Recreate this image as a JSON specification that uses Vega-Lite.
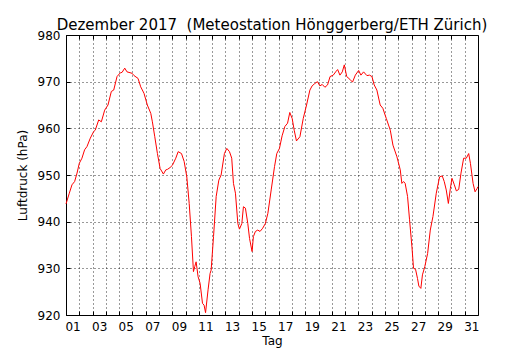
{
  "$schema": "https://vega.github.io/schema/vega-lite/v6.json",
  "width": 412,
  "height": 280,
  "autosize": {"type": "none"},
  "padding": {"left": 66, "top": 35, "right": 52, "bottom": 35},
  "background": "white",
  "config": {
    "font": "DejaVu Sans",
    "view": {"stroke": "black", "strokeWidth": 1},
    "axis": {
      "labelFont": "DejaVu Sans",
      "titleFont": "DejaVu Sans",
      "labelFontSize": 12,
      "titleFontSize": 12,
      "titleFontWeight": "normal",
      "labelColor": "black",
      "titleColor": "black",
      "tickColor": "black",
      "domain": false
    }
  },
  "title": {
    "text": "Dezember 2017\u00a0 (Meteostation Hönggerberg/ETH Zürich)",
    "font": "DejaVu Sans",
    "fontSize": 15,
    "fontWeight": "normal",
    "color": "black",
    "anchor": "middle",
    "frame": "group",
    "baseline": "alphabetic",
    "offset": 6,
    "dy": 22
  },
  "data": {
    "values": [
      {"t": 0.0, "p": 943.8}, {"t": 0.25, "p": 946.1}, {"t": 0.45, "p": 947.9}, {"t": 0.65, "p": 948.6},
      {"t": 0.83, "p": 950.4}, {"t": 1.0, "p": 952.5}, {"t": 1.2, "p": 953.6}, {"t": 1.4, "p": 955.4},
      {"t": 1.58, "p": 956.1}, {"t": 1.83, "p": 957.9}, {"t": 2.08, "p": 959.3}, {"t": 2.2, "p": 959.6},
      {"t": 2.46, "p": 961.8}, {"t": 2.66, "p": 961.4}, {"t": 2.91, "p": 963.9}, {"t": 3.16, "p": 965.0},
      {"t": 3.41, "p": 967.9}, {"t": 3.59, "p": 968.2}, {"t": 3.84, "p": 971.1}, {"t": 4.09, "p": 971.9},
      {"t": 4.22, "p": 972.0}, {"t": 4.42, "p": 972.9}, {"t": 4.59, "p": 972.1}, {"t": 4.97, "p": 971.8},
      {"t": 5.12, "p": 971.3}, {"t": 5.42, "p": 970.7}, {"t": 5.62, "p": 968.9}, {"t": 5.87, "p": 967.5},
      {"t": 6.12, "p": 965.0}, {"t": 6.38, "p": 963.2}, {"t": 6.5, "p": 961.4}, {"t": 6.68, "p": 958.2},
      {"t": 6.88, "p": 954.6}, {"t": 7.08, "p": 951.4}, {"t": 7.33, "p": 950.2}, {"t": 7.51, "p": 951.1},
      {"t": 7.63, "p": 951.2}, {"t": 7.83, "p": 951.6}, {"t": 8.01, "p": 952.1}, {"t": 8.26, "p": 953.6},
      {"t": 8.44, "p": 955.0}, {"t": 8.69, "p": 954.6}, {"t": 8.89, "p": 952.9}, {"t": 9.09, "p": 949.6},
      {"t": 9.27, "p": 943.9}, {"t": 9.44, "p": 936.8}, {"t": 9.59, "p": 929.3}, {"t": 9.69, "p": 930.4},
      {"t": 9.79, "p": 931.4}, {"t": 9.94, "p": 928.2}, {"t": 10.09, "p": 926.8}, {"t": 10.27, "p": 922.5},
      {"t": 10.39, "p": 922.1}, {"t": 10.5, "p": 920.5}, {"t": 10.69, "p": 925.4}, {"t": 10.84, "p": 928.9},
      {"t": 10.92, "p": 929.6}, {"t": 11.1, "p": 936.8}, {"t": 11.3, "p": 945.4}, {"t": 11.5, "p": 948.9},
      {"t": 11.67, "p": 950.0}, {"t": 11.92, "p": 954.6}, {"t": 12.1, "p": 955.7}, {"t": 12.3, "p": 955.0},
      {"t": 12.47, "p": 953.6}, {"t": 12.6, "p": 948.2}, {"t": 12.75, "p": 946.1}, {"t": 12.93, "p": 939.6},
      {"t": 13.05, "p": 938.4}, {"t": 13.23, "p": 939.6}, {"t": 13.35, "p": 943.2}, {"t": 13.5, "p": 942.9},
      {"t": 13.68, "p": 939.6}, {"t": 13.81, "p": 936.4}, {"t": 14.0, "p": 933.6}, {"t": 14.1, "p": 936.8},
      {"t": 14.25, "p": 937.9}, {"t": 14.43, "p": 938.2}, {"t": 14.6, "p": 937.9}, {"t": 14.8, "p": 938.6},
      {"t": 15.0, "p": 939.6}, {"t": 15.19, "p": 941.8}, {"t": 15.44, "p": 946.8}, {"t": 15.69, "p": 951.8},
      {"t": 15.86, "p": 954.6}, {"t": 16.06, "p": 955.7}, {"t": 16.26, "p": 958.4}, {"t": 16.47, "p": 960.4},
      {"t": 16.67, "p": 961.1}, {"t": 16.84, "p": 963.4}, {"t": 17.02, "p": 962.1}, {"t": 17.17, "p": 959.6},
      {"t": 17.34, "p": 957.3}, {"t": 17.6, "p": 958.2}, {"t": 17.85, "p": 962.1}, {"t": 18.1, "p": 965.0},
      {"t": 18.35, "p": 968.2}, {"t": 18.52, "p": 969.1}, {"t": 18.72, "p": 969.6}, {"t": 18.92, "p": 970.0},
      {"t": 19.1, "p": 969.1}, {"t": 19.28, "p": 969.4}, {"t": 19.48, "p": 968.8}, {"t": 19.68, "p": 969.3},
      {"t": 19.87, "p": 971.1}, {"t": 20.11, "p": 971.4}, {"t": 20.29, "p": 972.1}, {"t": 20.44, "p": 972.6},
      {"t": 20.61, "p": 971.4}, {"t": 20.79, "p": 972.1}, {"t": 20.94, "p": 973.6}, {"t": 21.12, "p": 971.1},
      {"t": 21.36, "p": 970.5}, {"t": 21.56, "p": 969.9}, {"t": 21.77, "p": 971.4}, {"t": 22.02, "p": 972.4},
      {"t": 22.19, "p": 971.4}, {"t": 22.39, "p": 972.1}, {"t": 22.64, "p": 971.3}, {"t": 22.84, "p": 971.4},
      {"t": 23.02, "p": 971.1}, {"t": 23.19, "p": 969.3}, {"t": 23.39, "p": 968.2}, {"t": 23.64, "p": 965.0},
      {"t": 23.84, "p": 964.3}, {"t": 24.1, "p": 962.1}, {"t": 24.4, "p": 959.6}, {"t": 24.6, "p": 956.4},
      {"t": 24.9, "p": 953.9}, {"t": 25.15, "p": 951.1}, {"t": 25.27, "p": 948.2}, {"t": 25.4, "p": 948.6},
      {"t": 25.52, "p": 948.2}, {"t": 25.7, "p": 945.4}, {"t": 25.85, "p": 940.4}, {"t": 26.03, "p": 934.6},
      {"t": 26.15, "p": 930.0}, {"t": 26.3, "p": 929.8}, {"t": 26.45, "p": 927.8}, {"t": 26.55, "p": 926.2},
      {"t": 26.7, "p": 925.7}, {"t": 26.82, "p": 928.6}, {"t": 27.0, "p": 930.4}, {"t": 27.21, "p": 933.2},
      {"t": 27.41, "p": 938.2}, {"t": 27.61, "p": 941.1}, {"t": 27.86, "p": 946.1}, {"t": 28.11, "p": 949.6},
      {"t": 28.31, "p": 949.8}, {"t": 28.46, "p": 948.6}, {"t": 28.61, "p": 946.8}, {"t": 28.77, "p": 943.9},
      {"t": 28.92, "p": 947.1}, {"t": 29.04, "p": 949.3}, {"t": 29.22, "p": 947.9}, {"t": 29.37, "p": 946.6},
      {"t": 29.55, "p": 946.9}, {"t": 29.72, "p": 950.4}, {"t": 29.92, "p": 953.6}, {"t": 30.12, "p": 953.6},
      {"t": 30.3, "p": 954.6}, {"t": 30.43, "p": 952.5}, {"t": 30.63, "p": 948.2}, {"t": 30.78, "p": 946.4},
      {"t": 30.93, "p": 947.1}, {"t": 31.0, "p": 947.5}
    ]
  },
  "layer": [
    {
      "mark": {"type": "line", "color": "red", "strokeWidth": 1},
      "encoding": {
        "x": {
          "field": "t", "type": "quantitative",
          "scale": {"domain": [0, 31], "nice": false, "zero": false},
          "axis": {
            "orient": "bottom",
            "values": [0,1,2,3,4,5,6,7,8,9,10,11,12,13,14,15,16,17,18,19,20,21,22,23,24,25,26,27,28,29,30,31],
            "labelExpr": "datum.value % 2 == 0 && datum.value < 31 ? (datum.value < 9 ? '0' : '') + (datum.value + 1) : ''",
            "labelOffset": 6.6,
            "labelFlush": false,
            "labelOverlap": false,
            "labelPadding": 10,
            "tickSize": -4,
            "grid": true,
            "gridDash": [1, 3],
            "gridColor": "black",
            "gridWidth": 1,
            "gridOpacity": 0.8,
            "title": "Tag",
            "titlePadding": 3
          }
        },
        "y": {
          "field": "p", "type": "quantitative",
          "scale": {"domain": [920, 980], "nice": false, "zero": false},
          "axis": {
            "orient": "left",
            "values": [920, 930, 940, 950, 960, 970, 980],
            "labelPadding": 10,
            "tickSize": -4,
            "grid": true,
            "gridDash": [1, 3],
            "gridColor": "black",
            "gridWidth": 1,
            "gridOpacity": 0.8,
            "title": "Luftdruck (hPa)",
            "titlePadding": 8
          }
        }
      }
    },
    {
      "mark": {"type": "line", "strokeOpacity": 0},
      "encoding": {
        "x": {
          "field": "t", "type": "quantitative",
          "axis": {
            "orient": "top",
            "values": [1,2,3,4,5,6,7,8,9,10,11,12,13,14,15,16,17,18,19,20,21,22,23,24,25,26,27,28,29,30],
            "labels": false, "grid": false, "tickSize": -4, "title": null,
            "minExtent": 0, "maxExtent": 0, "labelPadding": 0
          }
        },
        "y": {
          "field": "p", "type": "quantitative",
          "axis": {
            "orient": "right",
            "values": [930, 940, 950, 960, 970],
            "labels": false, "grid": false, "tickSize": -4, "title": null,
            "minExtent": 0, "maxExtent": 0, "labelPadding": 0
          }
        }
      }
    }
  ],
  "resolve": {"axis": {"x": "independent", "y": "independent"}}
}
